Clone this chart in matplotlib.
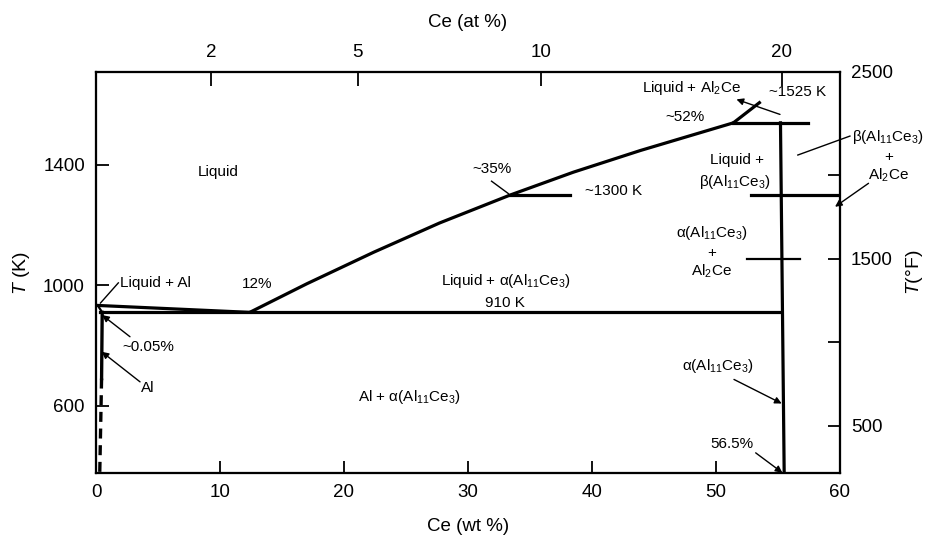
import matplotlib
matplotlib.use("Agg")
import matplotlib.pyplot as plt

plt.rcParams['font.family'] = ['Liberation Sans', 'DejaVu Sans']
plt.rcParams['mathtext.fontset'] = 'custom'
plt.rcParams['mathtext.rm'] = 'Liberation Sans'
plt.rcParams['mathtext.it'] = 'Liberation Sans:italic'
plt.rcParams['mathtext.bf'] = 'Liberation Sans:bold'

# ---------------- data (wt% Ce, T in K) ----------------
xlim_wt = (0, 60)
ylim_K = (376, 1709)

liq_hyper_wt = [12.4, 17.0, 22.4, 27.7, 33.4, 38.5, 43.9, 51.4]
liq_hyper_T = [910, 1005, 1110, 1207, 1300, 1376, 1448, 1540]

liq_al_wt = [0.14, 12.4]
liq_al_T = [933, 910]

sol_al_wt = [0.14, 0.5]
sol_al_T = [933, 910]

eut_wt = [0.3, 55.2]
eut_T = [910, 910]

solvus_wt = [0.5, 0.45]
solvus_T = [910, 690]
solvus_dash_wt = [0.45, 0.3]
solvus_dash_T = [690, 370]

al11_wt = [55.2, 55.5]
al11_T = [1540, 370]

perit_wt = [51.4, 57.4]
perit_T = [1540, 1540]

al2ce_liq_wt = [51.4, 53.5]
al2ce_liq_T = [1540, 1607]

t1300a_wt = [33.4, 38.2]
t1300a_T = [1300, 1300]
t1300b_wt = [52.8, 60.0]
t1300b_T = [1300, 1300]

t1088_wt = [52.5, 56.8]
t1088_T = [1088, 1088]

bottom_ticks = [0, 10, 20, 30, 40, 50, 60]
left_ticks = [600, 1000, 1400]
top_tick_pos = [9.3, 21.1, 35.9, 55.3]
top_tick_labels = ['2', '5', '10', '20']
right_ticks_F = [500, 1000, 1500, 2000]
right_labels_F = ['500', '', '1500', '']

fig = plt.figure(figsize=(9.33, 5.45), dpi=100)
ax = fig.add_axes([96/933, 1-473/545, 744/933, 401/545])
ax.set_xlim(*xlim_wt)
ax.set_ylim(*ylim_K)

lw = 2.3
k = 'black'
ax.plot(liq_hyper_wt, liq_hyper_T, color=k, lw=lw, solid_capstyle='butt')
ax.plot(liq_al_wt, liq_al_T, color=k, lw=lw)
ax.plot(sol_al_wt, sol_al_T, color=k, lw=1.6)
ax.plot(eut_wt, eut_T, color=k, lw=lw)
ax.plot(solvus_wt, solvus_T, color=k, lw=2.4)
ax.plot(solvus_dash_wt, solvus_dash_T, color=k, lw=2.4, ls=(0, (3, 2)))
ax.plot(al11_wt, al11_T, color=k, lw=lw)
ax.plot(perit_wt, perit_T, color=k, lw=lw)
ax.plot(al2ce_liq_wt, al2ce_liq_T, color=k, lw=lw)
ax.plot(t1300a_wt, t1300a_T, color=k, lw=lw)
ax.plot(t1300b_wt, t1300b_T, color=k, lw=lw)
ax.plot(t1088_wt, t1088_T, color=k, lw=1.6)

for s in ax.spines.values():
    s.set_linewidth(1.5)

ax.set_xticks(bottom_ticks)
ax.set_yticks(left_ticks)
ax.tick_params(axis='both', direction='in', length=9, width=1.3, labelsize=13.5, pad=8)
ax.set_xlabel('Ce (wt %)', fontsize=13.5, labelpad=12)
ax.set_ylabel(r'$T$ (K)', fontsize=14, labelpad=8)

# top axis (at%)
axt = ax.twiny()
axt.set_xlim(*xlim_wt)
axt.set_xticks(top_tick_pos)
axt.set_xticklabels(top_tick_labels)
axt.tick_params(axis='x', direction='in', length=10, width=1.3, labelsize=13.5, pad=8)
axt.set_xlabel('Ce (at %)', fontsize=13.5, labelpad=12)

# right axis (deg F)
axr = ax.twinx()
fmin = ylim_K[0]*1.8 - 459.67
fmax = ylim_K[1]*1.8 - 459.67
axr.set_ylim(fmin, fmax)
axr.set_yticks(right_ticks_F + [fmax])
axr.set_yticklabels(right_labels_F + ['2500'])
axr.tick_params(axis='y', direction='in', length=9, width=1.3, labelsize=13.5, pad=8)
axr.set_ylabel(r'$T$(°F)', fontsize=14, labelpad=8)
for a in (axt, axr):
    for s in a.spines.values():
        s.set_linewidth(1.5)

fs = 11
def txt(x, y, s, **kw):
    ax.text(x, y, s, fontsize=kw.pop('fontsize', fs), ha='center', va='center', clip_on=False, **kw)

alpha = r'α(Al$_{11}$Ce$_3$)'
beta = r'β(Al$_{11}$Ce$_3$)'
al2ce = r'Al$_2$Ce'

txt(9.84, 1376, 'Liquid')
txt(4.76, 1007, 'Liquid + Al')
txt(12.98, 1004, '12%')
txt(4.22, 794, '~0.05%')
txt(4.14, 657, 'Al')
txt(33.1, 1015, 'Liquid + ' + alpha)
txt(33.0, 942, '910 K')
txt(25.3, 629, 'Al + ' + alpha)
txt(31.9, 1385, '~35%')
txt(41.7, 1313, '~1300 K')
txt(47.5, 1558, '~52%')
txt(48.0, 1655, 'Liquid + ' + al2ce)
txt(56.6, 1643, '~1525 K')
txt(51.7, 1416, 'Liquid +')
txt(51.5, 1344, beta)
txt(49.65, 1175, alpha)
txt(49.65, 1106, '+')
txt(49.65, 1045, al2ce)
txt(63.9, 1494, beta)
txt(63.9, 1427, '+')
txt(63.9, 1366, al2ce)
txt(50.2, 731, alpha)
txt(51.3, 472, '56.5%')

def arrow(x0, y0, x1, y1):
    ax.annotate('', xy=(x1, y1), xytext=(x0, y0), annotation_clip=False,
                arrowprops=dict(arrowstyle='-|>', color=k, lw=1.0,
                                mutation_scale=10, shrinkA=0, shrinkB=0))

def leader(x0, y0, x1, y1):
    ax.plot([x0, x1], [y0, y1], color=k, lw=1.0, clip_on=False)

arrow(55.16, 1568, 51.65, 1618)
arrow(62.3, 1339, 59.6, 1261)
arrow(51.45, 687, 55.3, 607)
arrow(53.2, 443, 55.35, 377)
arrow(2.74, 829, 0.5, 901)
arrow(3.55, 679, 0.46, 779)
leader(60.8, 1496, 56.6, 1433)
leader(1.8, 1008, 0.36, 941)
leader(31.9, 1346, 33.25, 1305)

fig.savefig('out.png', dpi=100)
